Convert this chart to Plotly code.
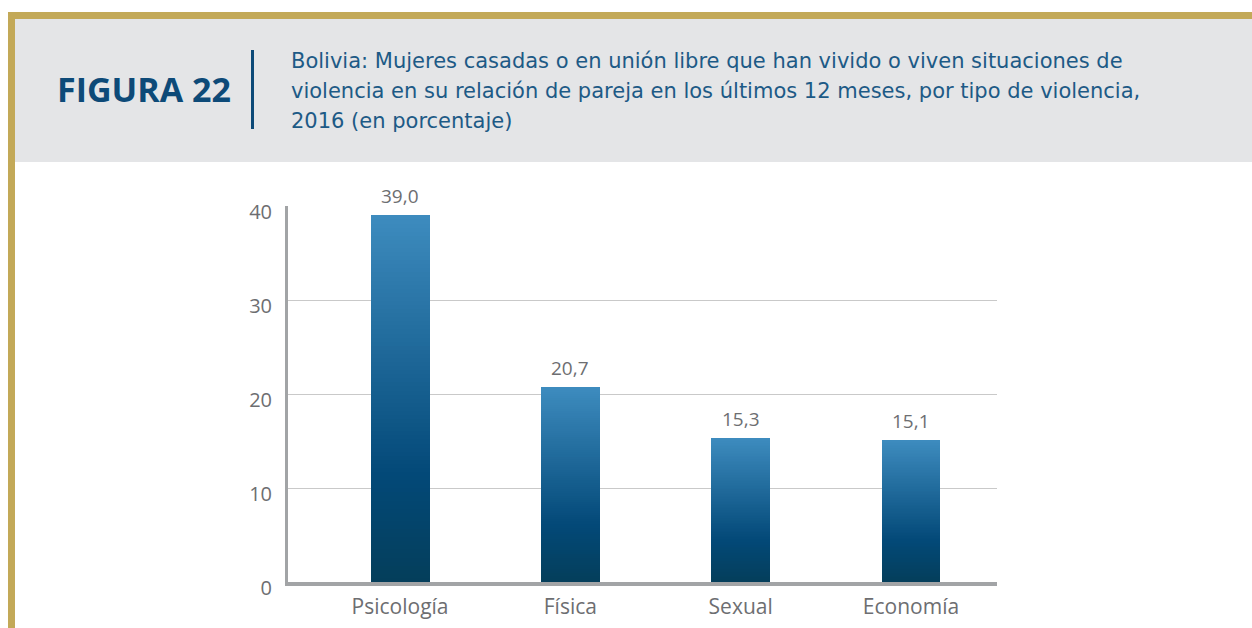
import plotly.graph_objects as go

# ---- data ----
categories = ["Psicología", "Física", "Sexual", "Economía"]
values = [39.0, 20.7, 15.3, 15.1]
y_ticks = [0, 10, 20, 30, 40]

figure_label = "FIGURA 22"
title_lines = [
    "Bolivia: Mujeres casadas o en unión libre que han vivido o viven situaciones de",
    "violencia en su relación de pareja en los últimos 12 meses, por tipo de violencia,",
    "2016 (en porcentaje)",
]

# ---- page geometry (pixels) ----
W, H = 1252, 628
PLOT_L, PLOT_R, PLOT_T, PLOT_B = 288, 997, 206, 582

FONT = "Open Sans"
TITLE_FONT = "DejaVu Sans"
GREY_TXT = "#6d6e71"
NAVY = "#0d4a78"
GOLD = "#c3a958"
BAND = "#e4e5e7"

# vertical gradient of the bars, bottom (0) to top (1)
grad_stops = [(0.0, (4, 62, 90)), (0.30, (3, 73, 120)), (1.0, (61, 139, 190))]


def grad_color(t):
    for (t0, c0), (t1, c1) in zip(grad_stops[:-1], grad_stops[1:]):
        if t <= t1:
            f = (t - t0) / (t1 - t0) if t1 > t0 else 0
            r, g, b = (round(a + (b_ - a) * f) for a, b_ in zip(c0, c1))
            return f"rgb({r},{g},{b})"
    r, g, b = grad_stops[-1][1]
    return f"rgb({r},{g},{b})"


def px(x):
    return (x - PLOT_L) / (PLOT_R - PLOT_L)


def py(y):
    return (PLOT_B - y) / (PLOT_B - PLOT_T)


fig = go.Figure()

# bars: overlaid layers, each one shorter and darker, build the gradient
N = 90
for k in range(N):
    frac = (N - k) / N
    fig.add_trace(go.Bar(
        x=categories,
        y=[v * frac for v in values],
        width=0.346,
        marker=dict(color=grad_color(frac), line=dict(width=0)),
        hoverinfo="skip",
        showlegend=False,
    ))

shapes = [
    # header band
    dict(type="rect", xref="paper", yref="paper",
         x0=px(15), x1=px(W + 5), y0=py(162), y1=py(19),
         fillcolor=BAND, line=dict(width=0), layer="below"),
    # gold frame: top and left
    dict(type="rect", xref="paper", yref="paper",
         x0=px(8), x1=px(W + 5), y0=py(19), y1=py(12),
         fillcolor=GOLD, line=dict(width=0), layer="below"),
    dict(type="rect", xref="paper", yref="paper",
         x0=px(8), x1=px(15), y0=py(H + 5), y1=py(12),
         fillcolor=GOLD, line=dict(width=0), layer="below"),
    # separator between label and title
    dict(type="rect", xref="paper", yref="paper",
         x0=px(251), x1=px(254), y0=py(129), y1=py(50),
         fillcolor=NAVY, line=dict(width=0), layer="below"),
]

annotations = [
    dict(text=f"<b>{figure_label}</b>", xref="paper", yref="paper",
         x=px(233), y=py(89), xanchor="right", yanchor="middle",
         showarrow=False, font=dict(family=FONT, size=34, color=NAVY)),
]
for i, line in enumerate(title_lines):
    annotations.append(dict(
        text=line, xref="paper", yref="paper",
        x=px(289), y=py(61 + 30 * i), xanchor="left", yanchor="middle",
        showarrow=False, font=dict(family=TITLE_FONT, size=21, color="#1d5a86"),
    ))

# value labels above bars
for c, v in zip(categories, values):
    annotations.append(dict(
        text=f"{v:.1f}".replace(".", ","), x=c, y=v, xref="x", yref="y",
        xanchor="center", yanchor="bottom", yshift=4, showarrow=False,
        font=dict(family=FONT, size=19, color=GREY_TXT),
    ))

fig.update_layout(
    width=W, height=H,
    margin=dict(l=PLOT_L, r=W - PLOT_R, t=PLOT_T, b=H - PLOT_B, pad=0),
    paper_bgcolor="white", plot_bgcolor="white",
    barmode="overlay",
    bargap=0,
    shapes=shapes,
    annotations=annotations,
    xaxis=dict(
        type="category",
        range=[-0.658, 3.505],
        automargin=False,
        showgrid=False, zeroline=False,
        showline=True, linecolor="#a2a4a6", linewidth=4,
        ticks="", ticklabelstandoff=3,
        tickfont=dict(family=FONT, size=21, color=GREY_TXT),
        fixedrange=True,
    ),
    yaxis=dict(
        range=[0, 40],
        tickvals=y_ticks,
        automargin=False,
        showgrid=True, gridcolor="#c9c9c9", gridwidth=1,
        zeroline=False,
        showline=True, linecolor="#a2a4a6", linewidth=3,
        ticks="", ticklabelstandoff=9, ticklabelshift=6,
        tickfont=dict(family=FONT, size=20, color=GREY_TXT),
        fixedrange=True,
    ),
)

fig.write_html("out.html", config={"displayModeBar": False})
